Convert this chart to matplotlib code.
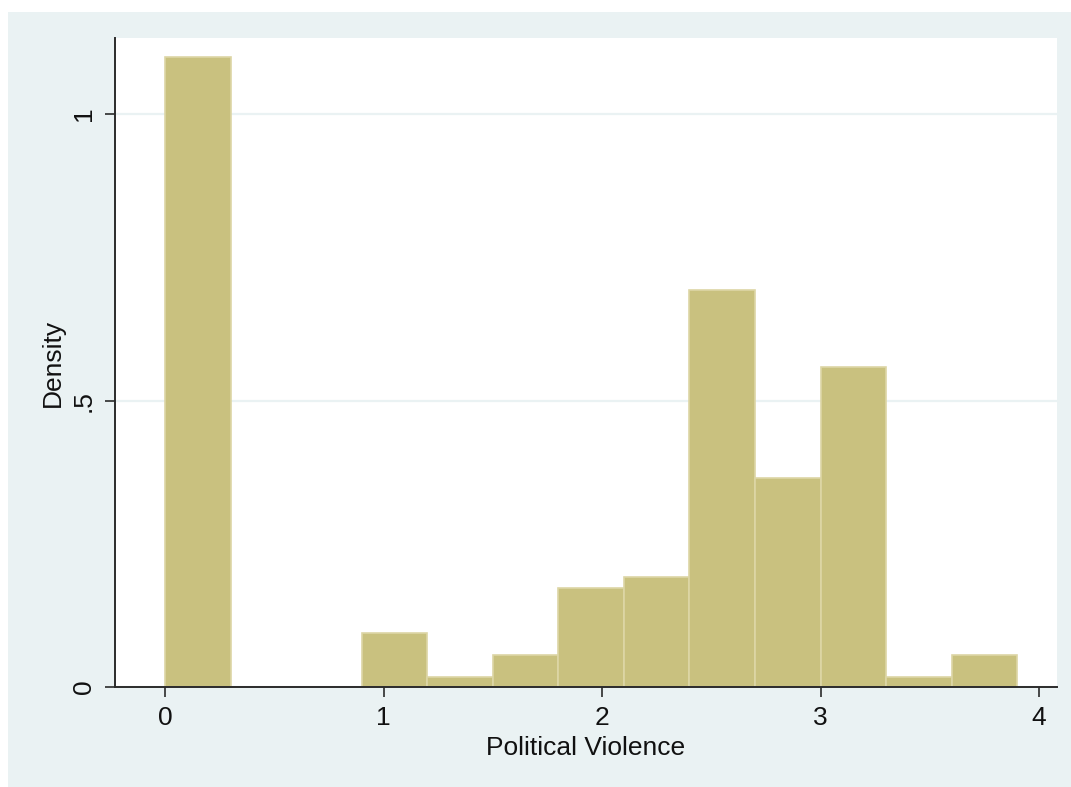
import numpy as np
import matplotlib
matplotlib.use("Agg")
import matplotlib.pyplot as plt
from matplotlib.patches import Rectangle

plt.rcParams.update({
    "font.family": ["Liberation Sans", "DejaVu Sans"],
    "font.size": 19,
})

# histogram bins (Political Violence) and density heights
bin_edges = [0.0, 0.3, 0.6, 0.9, 1.2, 1.5, 1.8, 2.1, 2.4, 2.7, 3.0, 3.3, 3.6, 3.9]
density = [1.10, 0.0, 0.0, 0.094, 0.0175, 0.056, 0.173, 0.192, 0.693, 0.365, 0.558, 0.0175, 0.056]
x_ticks = [0, 1, 2, 3, 4]
y_ticks = [0, 0.5, 1]
y_tick_labels = ["0", ".5", "1"]

BAR = "#C9C17F"
BAR_EDGE = "#DDD6A6"
GRAPH_BG = "#EAF2F3"
AXIS = "#2B2B2B"

fig = plt.figure(figsize=(10.71, 7.87), dpi=100, facecolor="white")
# Stata-like graph region
fig.patches.append(Rectangle((8 / 1071, 0), 1, (787 - 12) / 787, transform=fig.transFigure,
                             facecolor=GRAPH_BG, edgecolor="none", zorder=-10))

ax = fig.add_axes([115 / 1071, 100 / 787, (1057 - 115) / 1071, (687 - 38) / 787])
ax.set_facecolor("white")

edges = np.array(bin_edges)
ax.bar(edges[:-1], density, width=np.diff(edges), align="edge",
       color=BAR, edgecolor=BAR_EDGE, linewidth=1.2, zorder=2)

ax.set_xlim(-0.229, 4.082)
ax.set_ylim(0, 1.133)
ax.set_xticks(x_ticks)
ax.set_yticks(y_ticks)
ax.set_yticklabels(y_tick_labels)

for s in ["top", "right"]:
    ax.spines[s].set_visible(False)
for s in ["left", "bottom"]:
    ax.spines[s].set_color(AXIS)
    ax.spines[s].set_linewidth(1.4)
    ax.spines[s].set_zorder(3)

ax.grid(True, axis="y", color=GRAPH_BG, lw=1.6, zorder=0)
ax.set_axisbelow(True)
ax.tick_params(axis="both", direction="out", length=7, width=1.2, color=AXIS,
               labelcolor="#111111", labelsize=19)
ax.tick_params(axis="x", pad=7)
ax.tick_params(axis="y", pad=7, labelrotation=90)
for lab in ax.get_yticklabels():
    lab.set_va("center")

ax.set_xlabel("Political Violence", fontsize=19, labelpad=4, color="#111111")
ax.set_ylabel("Density", fontsize=19, labelpad=5, color="#111111")

fig.savefig("out.png", dpi=100, facecolor=fig.get_facecolor())
